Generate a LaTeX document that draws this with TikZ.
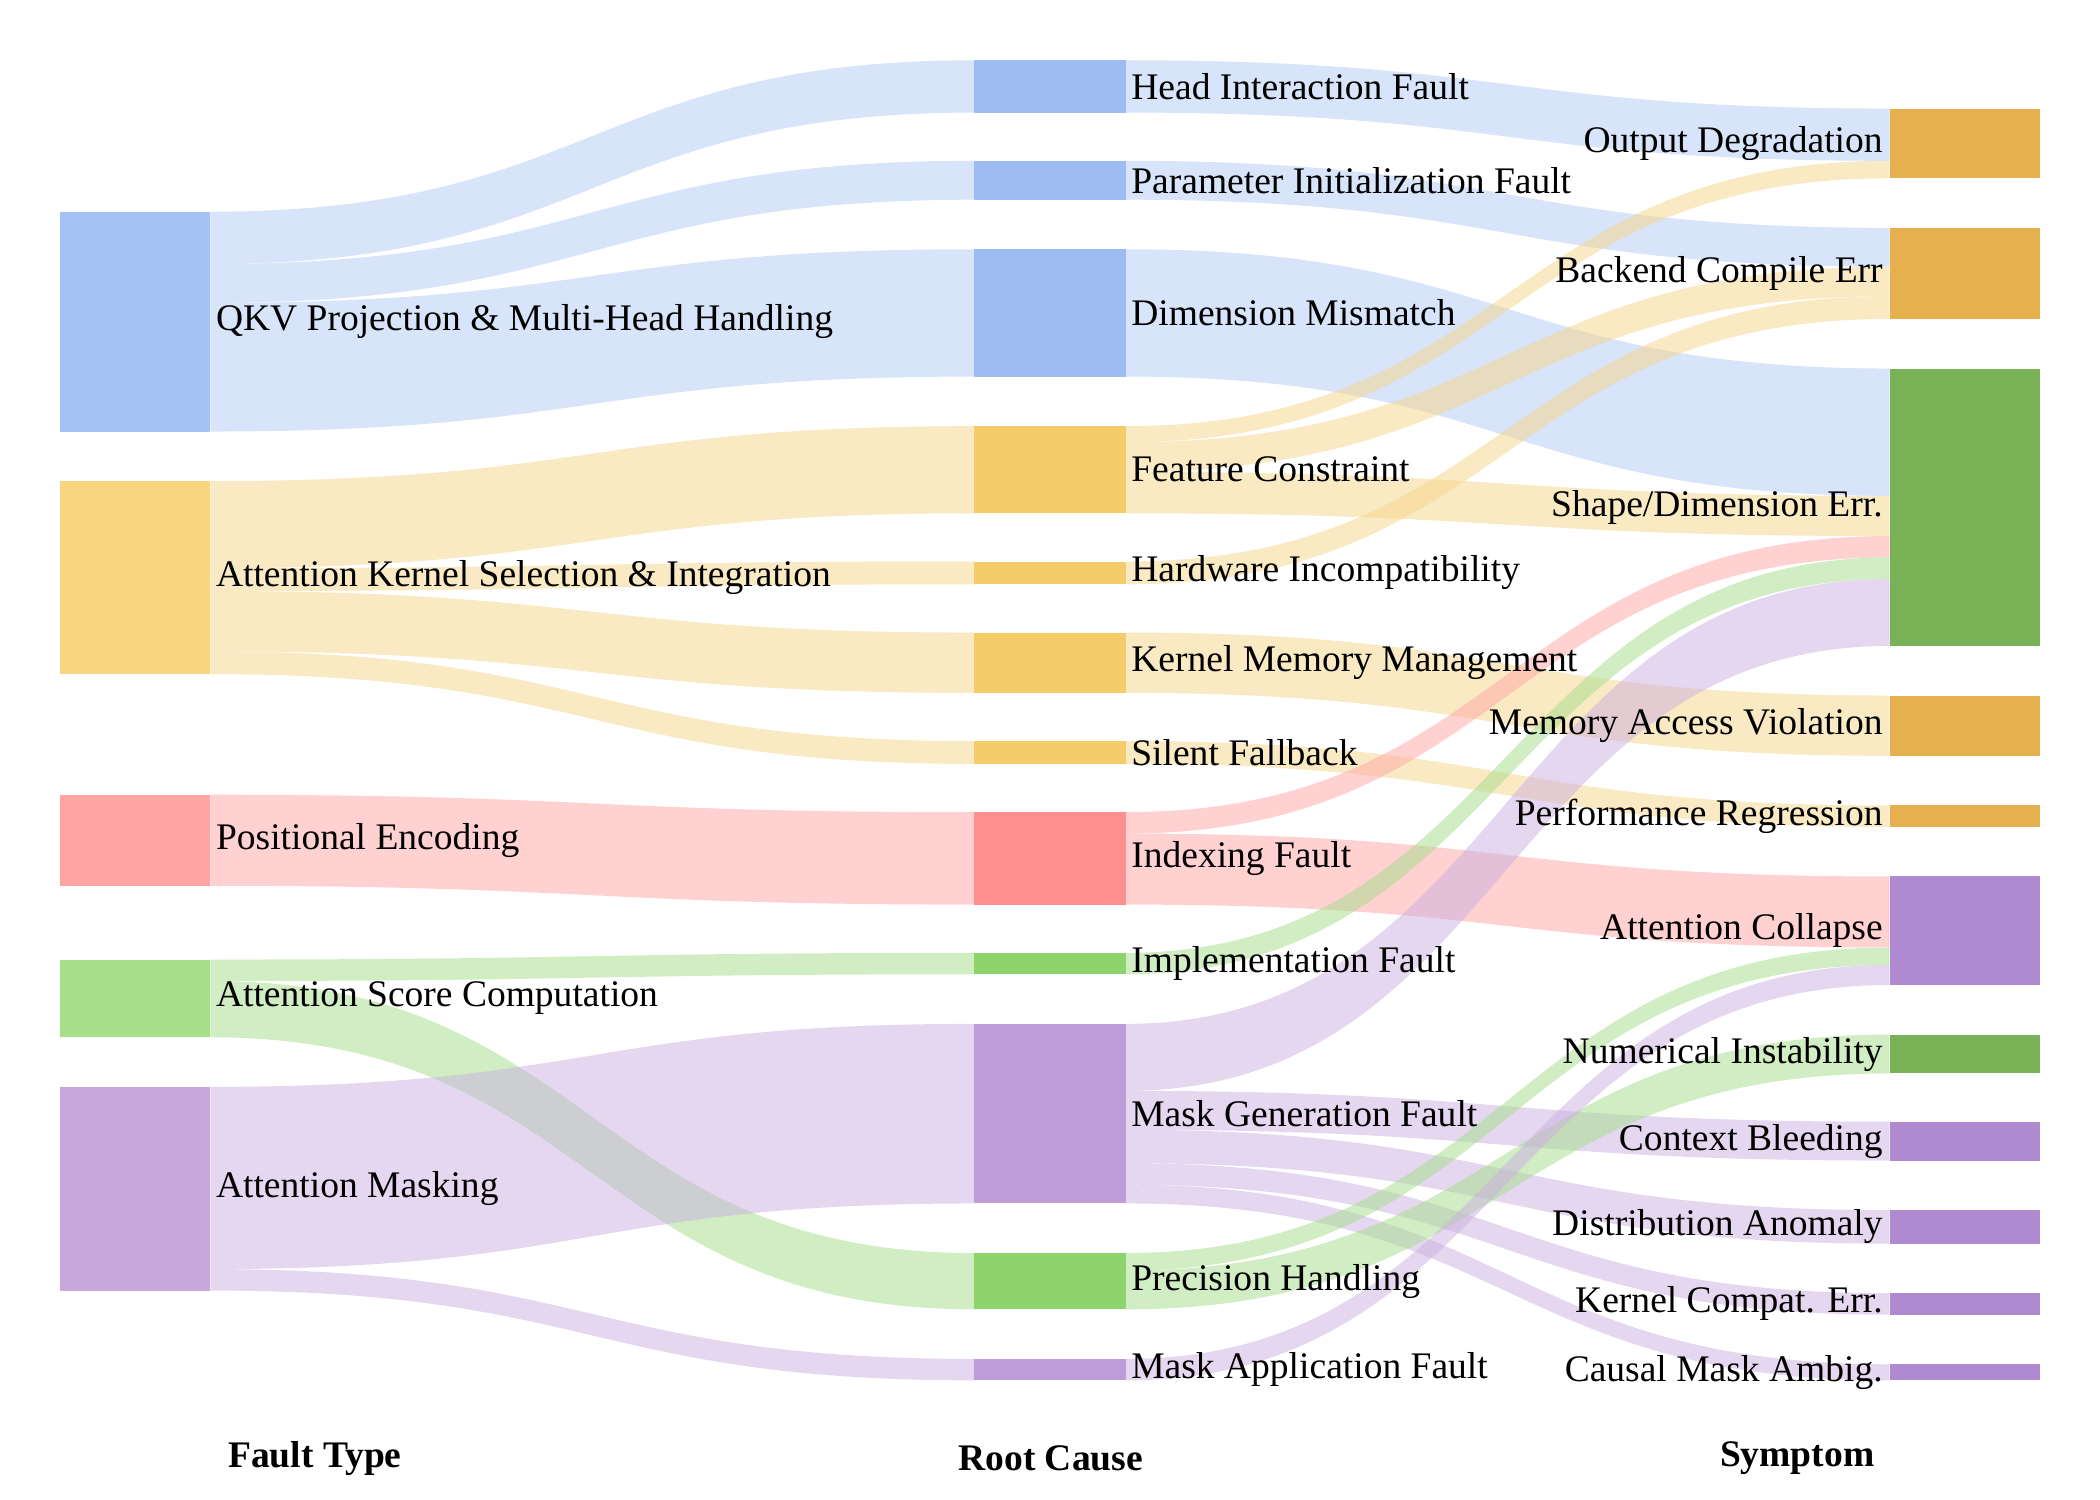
\documentclass[tikz,border=0pt]{standalone}
\usepackage{fontspec}
\setmainfont{Liberation Serif}
\definecolor{cb}{HTML}{9DBDF2}
\definecolor{cy}{HTML}{F5CC6A}
\definecolor{cp}{HTML}{FF8F8F}
\definecolor{cg}{HTML}{8ED46C}
\definecolor{cv}{HTML}{BE9CD8}
\definecolor{lb}{HTML}{A4C2F4}
\definecolor{ly}{HTML}{F8D57E}
\definecolor{lp}{HTML}{FFA3A3}
\definecolor{lg}{HTML}{A8E08A}
\definecolor{lv}{HTML}{C8A8DC}
\definecolor{ro}{HTML}{E6B04F}
\definecolor{rg}{HTML}{79B256}
\definecolor{rv}{HTML}{B08AD0}
\newcommand\flow[7]{\fill[#7,opacity=.5] (#1,#2) .. controls ({(#1+#4)/2},#2) and ({(#1+#4)/2},#5) .. (#4,#5) -- (#4,#6) .. controls ({(#1+#4)/2},#6) and ({(#1+#4)/2},#3) .. (#1,#3) -- cycle;}
\newcommand\lnode[4]{\fill[#4] (45,#1) rectangle (157,#2); \node[lab,anchor=west] at (160,{(#1+#2)/2}) {#3};}
\newcommand\mnode[4]{\fill[#4] (727,#1) rectangle (840,#2); \node[lab,anchor=west] at (843,{(#1+#2)/2}) {#3};}
\newcommand\rnode[4]{\fill[#4] (1410,#1) rectangle (1522,#2); \node[lab,anchor=east] at (1406,{(#1+#2)/2}) {#3};}
\begin{document}
\begin{tikzpicture}[x=1pt,y=-1pt,lab/.style={font=\fontsize{28}{30}\selectfont,inner sep=1pt},hd/.style={font=\fontsize{28}{30}\selectfont\bfseries}]
\useasboundingbox[fill=white] (0,0) rectangle (1567,1119);
% left -> middle
\flow{157}{158}{197}{727}{45}{84}{cb!80}
\flow{157}{197}{226}{727}{120}{149}{cb!80}
\flow{157}{226}{322}{727}{186}{281}{cb!80}
\flow{157}{359}{424}{727}{318}{383}{cy!80}
\flow{157}{424}{441}{727}{419}{436}{cy!80}
\flow{157}{441}{486}{727}{472}{517}{cy!80}
\flow{157}{486}{503}{727}{553}{570}{cy!80}
\flow{157}{593}{661}{727}{606}{675}{cp!80}
\flow{157}{716}{732}{727}{711}{727}{cg!80}
\flow{157}{732}{774}{727}{935}{977}{cg!80}
\flow{157}{811}{947}{727}{764}{898}{cv!80}
\flow{157}{947}{963}{727}{1014}{1030}{cv!80}
% middle -> right
\flow{840}{45}{84}{1410}{81}{120}{cb!80}
\flow{840}{120}{149}{1410}{170}{199}{cb!80}
\flow{840}{186}{281}{1410}{275}{370}{cb!80}
\flow{840}{318}{330}{1410}{120}{133}{cy!80}
\flow{840}{330}{352}{1410}{199}{221}{cy!80}
\flow{840}{352}{383}{1410}{370}{400}{cy!80}
\flow{840}{419}{436}{1410}{221}{238}{cy!80}
\flow{840}{472}{517}{1410}{519}{564}{cy!80}
\flow{840}{553}{570}{1410}{601}{617}{cy!80}
\flow{840}{606}{622}{1410}{400}{416}{cp!80}
\flow{840}{622}{675}{1410}{654}{707}{cp!80}
\flow{840}{711}{727}{1410}{416}{432}{cg!80}
\flow{840}{764}{814}{1410}{432}{482}{cv!80}
\flow{840}{814}{843}{1410}{837}{866}{cv!80}
\flow{840}{843}{868}{1410}{903}{928}{cv!80}
\flow{840}{868}{884}{1410}{965}{981}{cv!80}
\flow{840}{884}{898}{1410}{1018}{1030}{cv!80}
\flow{840}{935}{948}{1410}{707}{720}{cg!80}
\flow{840}{948}{977}{1410}{772}{801}{cg!80}
\flow{840}{1014}{1030}{1410}{720}{735}{cv!80}
% nodes
\lnode{158}{322}{QKV Projection \& Multi-Head Handling}{lb}
\lnode{359}{503}{Attention Kernel Selection \& Integration}{ly}
\lnode{593}{661}{Positional Encoding}{lp}
\lnode{716}{774}{Attention Score Computation}{lg}
\lnode{811}{963}{Attention Masking}{lv}
\mnode{45}{84}{Head Interaction Fault}{cb}
\mnode{120}{149}{Parameter Initialization Fault}{cb}
\mnode{186}{281}{Dimension Mismatch}{cb}
\mnode{318}{383}{Feature Constraint}{cy}
\mnode{419}{436}{Hardware Incompatibility}{cy}
\mnode{472}{517}{Kernel Memory Management}{cy}
\mnode{553}{570}{Silent Fallback}{cy}
\mnode{606}{675}{Indexing Fault}{cp}
\mnode{711}{727}{Implementation Fault}{cg}
\mnode{764}{898}{Mask Generation Fault}{cv}
\mnode{935}{977}{Precision Handling}{cg}
\mnode{1014}{1030}{Mask Application Fault}{cv}
\rnode{81}{133}{Output Degradation}{ro}
\rnode{170}{238}{Backend Compile Err}{ro}
\rnode{275}{482}{Shape/Dimension Err.}{rg}
\rnode{519}{564}{Memory Access Violation}{ro}
\rnode{601}{617}{Performance Regression}{ro}
\rnode{654}{735}{Attention Collapse}{rv}
\rnode{772}{801}{Numerical Instability}{rg}
\rnode{837}{866}{Context Bleeding}{rv}
\rnode{903}{928}{Distribution Anomaly}{rv}
\rnode{965}{981}{Kernel Compat. Err.}{rv}
\rnode{1018}{1030}{Causal Mask Ambig.}{rv}
\node[hd] (h1) at (235,1088) {Fault Type};
\node[hd] (h2) at (784,1088) {Root Cause};
\node[hd] (h3) at (1341,1088) {Symptom};
\end{tikzpicture}
\end{document}
